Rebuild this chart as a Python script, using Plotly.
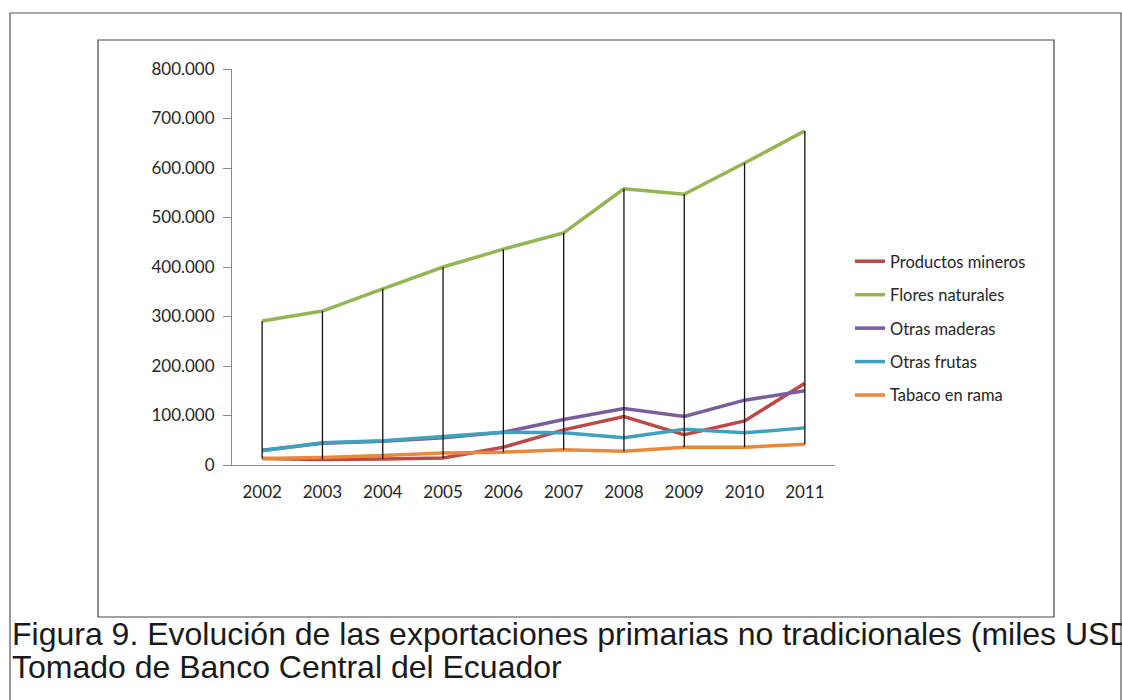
import plotly.graph_objects as go

years = ["2002", "2003", "2004", "2005", "2006", "2007", "2008", "2009", "2010", "2011"]

productos_mineros = [13000, 11000, 12000, 14000, 36000, 71000, 98000, 61000, 89000, 165000]
flores_naturales = [291000, 311000, 356000, 400000, 436000, 469000, 558000, 547000, 610000, 675000]
otras_maderas = [30000, 44000, 48000, 55000, 66000, 92000, 114000, 98000, 131000, 150000]
otras_frutas = [29000, 45000, 49000, 57000, 66000, 65000, 55000, 72000, 65000, 75000]
tabaco_en_rama = [13000, 15000, 19000, 24000, 26000, 31000, 28000, 36000, 36000, 42000]

series = [
    ("Productos mineros", productos_mineros, "#BA4A47"),
    ("Flores naturales", flores_naturales, "#93B553"),
    ("Otras maderas", otras_maderas, "#7A5E9C"),
    ("Otras frutas", otras_frutas, "#3FA2BD"),
    ("Tabaco en rama", tabaco_en_rama, "#E8893A"),
]

y_ticks = [0, 100000, 200000, 300000, 400000, 500000, 600000, 700000, 800000]

fig = go.Figure()

for i, (name, values, color) in enumerate(series):
    fig.add_trace(
        go.Scatter(
            x=years,
            y=values,
            name=name,
            mode="lines",
            line=dict(color=color, width=3.5),
            legendgroup=f"g{i}",
        )
    )

# lineas de maximo a minimo (high-low lines)
all_vals = [s[1] for s in series]
hl_x, hl_y = [], []
for j, yr in enumerate(years):
    col = [v[j] for v in all_vals]
    hl_x += [yr, yr, None]
    hl_y += [max(col), min(col), None]

fig.add_trace(
    go.Scatter(
        x=hl_x,
        y=hl_y,
        mode="lines",
        line=dict(color="#111111", width=1.3),
        showlegend=False,
        hoverinfo="skip",
    )
)

fig.update_xaxes(
    type="category",
    range=[-0.5, 9.5],
    showline=True,
    linecolor="#8A8A8A",
    linewidth=1,
    showgrid=False,
    zeroline=False,
    ticks="",
    ticklabelstandoff=12,
    tickfont=dict(family="Lato", size=17, color="#262626"),
)

fig.update_yaxes(
    range=[0, 800000],
    tickmode="array",
    tickvals=y_ticks,
    tickformat=",d",
    showline=True,
    linecolor="#8A8A8A",
    linewidth=1,
    ticks="outside",
    ticklen=8,
    tickcolor="#8A8A8A",
    ticklabelstandoff=5,
    showgrid=False,
    zeroline=False,
    tickfont=dict(family="Lato", size=17, color="#262626"),
)

# marcos (en coordenadas del area de trazado)
def px_x(px):
    return (px - 232) / 603


def px_y(py):
    return (465 - py) / 396


fig.add_shape(
    type="rect", xref="paper", yref="paper",
    x0=px_x(10), x1=px_x(1121), y0=px_y(710), y1=px_y(13),
    line=dict(color="#555555", width=1.2), layer="below",
)
fig.add_shape(
    type="rect", xref="paper", yref="paper",
    x0=px_x(98), x1=px_x(1054), y0=px_y(617), y1=px_y(40),
    line=dict(color="#444444", width=1.2), layer="below",
)

fig.add_annotation(
    xref="paper", yref="paper",
    x=px_x(10), y=px_y(634),
    xanchor="left", yanchor="middle",
    text="Figura 9. Evolución de las exportaciones primarias no tradicionales (miles USD)",
    showarrow=False,
    font=dict(family="Liberation Sans", size=32, color="#1a1a1a"),
)
fig.add_annotation(
    xref="paper", yref="paper",
    x=px_x(10), y=px_y(667),
    xanchor="left", yanchor="middle",
    text="Tomado de Banco Central del Ecuador",
    showarrow=False,
    font=dict(family="Liberation Sans", size=32, color="#1a1a1a"),
)

fig.update_layout(
    width=1122,
    height=700,
    paper_bgcolor="white",
    plot_bgcolor="white",
    separators=",.",
    margin=dict(l=232, r=287, t=69, b=235, autoexpand=False),
    legend=dict(
        x=px_x(850),
        y=px_y(244),
        xanchor="left",
        yanchor="top",
        tracegroupgap=9,
        font=dict(family="Lato", size=16.5, color="#262626"),
        bgcolor="rgba(0,0,0,0)",
        itemwidth=30,
    ),
)

fig.write_html(
    "out.html",
    config={"displayModeBar": False},
    post_script="document.body.style.margin='0';document.body.style.overflow='hidden';",
)
